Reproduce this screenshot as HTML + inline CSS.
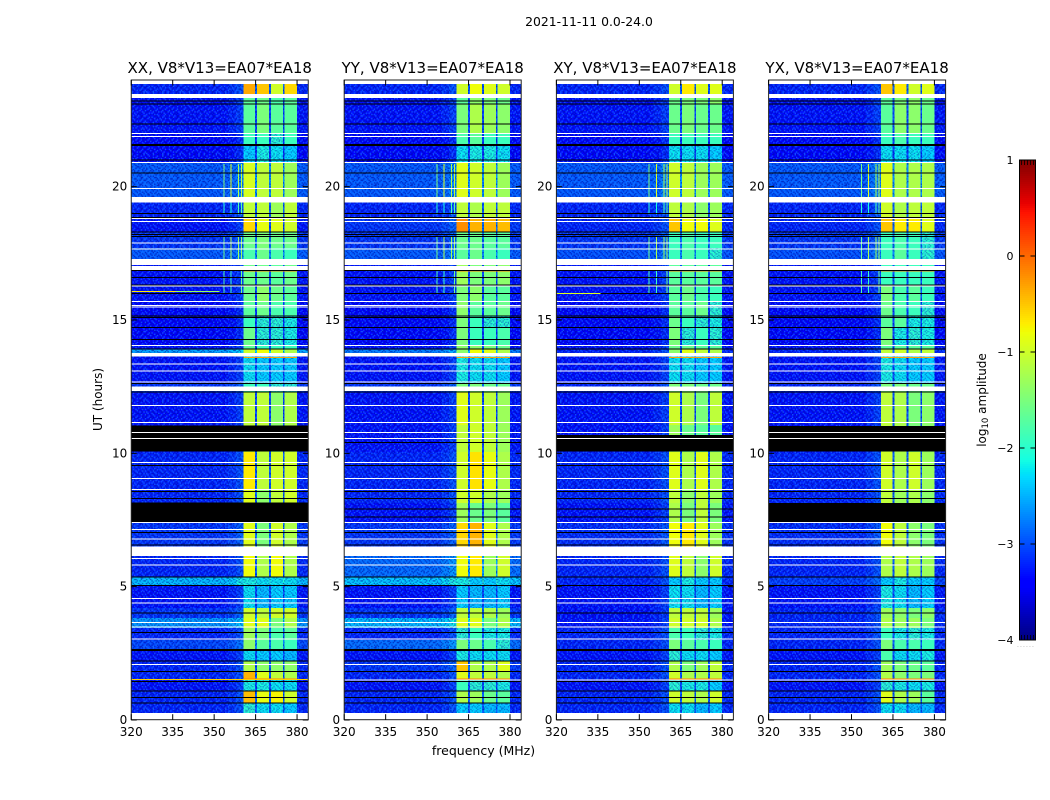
<!DOCTYPE html>
<html lang="en">
<head>
<meta charset="utf-8">
<title>2021-11-11 0.0-24.0</title>
<style>
html,body{margin:0;padding:0;background:#fff;width:1050px;height:800px;overflow:hidden}
svg{display:block}
text{font-family:"DejaVu Sans","Liberation Sans",sans-serif;fill:#000}
</style>
</head>
<body>
<svg id="chart" xmlns="http://www.w3.org/2000/svg" width="1050" height="800" viewBox="0 0 1050 800">
  <defs>
    <pattern id="speckle" width="27" height="23" patternUnits="userSpaceOnUse" patternTransform="scale(1.34)">
      <path id="speckle-dark" fill="#0008a0" fill-opacity="0.6" d=""/>
      <path id="speckle-light" fill="#1a78ff" fill-opacity="0.65" d=""/>
    </pattern>
  </defs>
  <text x="589" y="26" font-size="12.4" text-anchor="middle">2021-11-11 0.0-24.0</text>
  <text x="483.5" y="755" font-size="12.5" text-anchor="middle">frequency (MHz)</text>
  <text x="0" y="0" font-size="12" text-anchor="middle" transform="translate(102,399.5) rotate(-90)">UT (hours)</text>
  <text x="0" y="0" font-size="12" text-anchor="middle" transform="translate(986,400) rotate(-90)">log<tspan font-size="8.5" dy="2">10</tspan><tspan dy="-2"> amplitude</tspan></text>
  <text x="1017" y="647" font-size="6" letter-spacing="1.1" fill="#999" style="fill:#999">......</text>
  <g id="panels"></g>
  <g id="colorbar"></g>
</svg>
<script>
// Upper/lower edges (UT hours) of the rows of the time-frequency map, top to bottom.
const rowEdges = [23.85,23.33,23.10,22.01,21.56,20.93,19.61,18.83,18.30,17.70,17.06,16.28,15.71,15.15,14.70,14.06,13.91,13.65,12.64,12.30,11.06,10.05,8.66,8.14,7.43,6.49,5.36,5.03,4.20,3.83,3.45,3.00,2.63,2.21,1.80,1.50,1.09,0.64,0.26];

// Frequency channels (MHz); each channel reads a column of a row: 0 = background, 1-4 = sub-bands.
const channelEdges = [320,355,358,360.7,364.8,365.5,369.9,370.6,374.9,375.5,380,384.05];
const channelColumn = [0,0,0,1,0,2,0,3,0,4,0];
const channelOffset = [-.22,-.12,.02,0,.08,0,.08,0,.08,0,-.2];

// log10 amplitude per row: [background, sub-band 1, sub-band 2, sub-band 3, sub-band 4]
const xxRows = [
[-3,-.35,-.5,-1,-.6],[-3.1,-1.7,-1.6,-1.8,-1.7],[-3.1,-1.7,-1.5,-1.7,-1.7],[-3.2,-1.9,-1.9,-2,-1.9],[-3.2,-2.3,-2.1,-2.2,-2.3],
[-2.7,-.95,-1.1,-1.1,-1.3],[-3,-1.1,-1.1,-1.3,-1.1],[-3.1,-.6,-.85,-.9,-1],[-2.9,-1.6,-1.5,-1.6,-1.6],[-2.7,-1.8,-1.6,-1.8,-1.9],
[-3.1,-1.6,-1.6,-1.7,-1.6],[-3.1,-1.6,-1.4,-1.6,-1.7],[-3.2,-1.7,-1.6,-1.8,-1.8],[-3.2,-1.9,-2,-2,-2.1],[-3.2,-1.6,-2,-2,-2.1],
[-3.1,-1.7,-1.9,-1.9,-1.9],[-2.3,-1,-.8,-1,-1.2],[-3.1,-2.2,-2.3,-2.3,-2.3],[-2.9,-1.9,-1.9,-2,-2],[-3.1,-1.1,-1.1,-1.4,-1.2],
[-3.1,-1.1,-1.1,-1.4,-1.2],[-3,-.7,-1.1,-1,-1],[-3,-.9,-1.4,-1.1,-1],[-3,-1,-1.4,-1.1,-1.1],[-2.9,-.9,-1.5,-1,-1.2],
[-3,-.8,-1.2,-.8,-1.2],[-2.15,-2.1,-2.2,-2.2,-2.2],[-3.1,-2.2,-2.4,-2.3,-2.3],[-2.9,-1,-1.1,-1,-1],[-2.35,-.9,-.9,-1.5,-1.2],
[-3,-1.3,-1.5,-1.8,-1.7],[-2.8,-1.4,-1.7,-1.8,-1.9],[-3.1,-2.2,-2.3,-2.3,-2.4],[-3,-1.2,-1.4,-1.4,-1.4],[-3,-.4,-.9,-1.1,-1.2],
[-3.1,-2.1,-2.1,-2.2,-2.2],[-3,-.45,-.85,-.75,-1],[-3,-2,-2.2,-2.2,-2.3]];
const yyRows = [
[-3,-1,-.8,-.9,-1],[-3.1,-1.7,-1.4,-1.5,-1.6],[-3.1,-1.5,-1.2,-1.3,-1.4],[-3.2,-1.8,-1.7,-1.9,-1.9],[-3.2,-2.2,-2.1,-2.1,-2.2],
[-2.7,-.9,-1,-1.1,-1.3],[-3,-1.1,-1.2,-1.1,-1.1],[-2.9,-.2,-.4,-.4,-.45],[-2.9,-1.6,-1.6,-1.7,-1.7],[-2.7,-1.7,-1.6,-1.8,-1.9],
[-3.1,-1.3,-1.5,-1.5,-1.4],[-3.1,-1.5,-1.4,-1.7,-1.7],[-3.2,-1.4,-1.7,-1.7,-1.6],[-3.2,-1.5,-1.9,-2,-2],[-3.2,-1.5,-1.9,-1.9,-1.8],
[-3.1,-1.4,-1.4,-1.5,-1.6],[-2.5,-1.4,-.8,-.9,-1.2],[-3.1,-2.1,-2.2,-2.2,-2.3],[-2.9,-1.5,-1.5,-1.6,-1.6],[-3.1,-.9,-1,-1.1,-1.3],
[-3.1,-1.1,-1,-1.1,-1.3],[-3,-1,-.65,-.85,-1.2],[-3,-1,-1,-1.2,-1.3],[-3.1,-1.3,-1.6,-1.5,-1.7],[-2.9,-.6,-.4,-.9,-1.2],
[-2.6,-.8,-.7,-1.3,-1],[-2.1,-2.1,-2.3,-2.3,-2.2],[-3.1,-2.3,-2.4,-2.4,-2.3],[-2.9,-1.1,-1.1,-1.2,-1.3],[-2.15,-.9,-.9,-1.5,-1.2],
[-3,-2,-1.9,-2.1,-2.1],[-2.6,-1.5,-1.6,-1.8,-2],[-3.1,-2.1,-2.2,-2.2,-2.2],[-2.9,-.5,-1.2,-1.2,-.9],[-3,-.9,-1.1,-1.1,-1.2],
[-3.1,-1.9,-2,-2,-2.1],[-3,-1.2,-1.3,-1.6,-1.7],[-3,-2.3,-2.3,-2.4,-2.4]];
const xyRows = [
[-3,-1,-.7,-.9,-.9],[-3.1,-1.6,-1.5,-1.5,-1.4],[-3.1,-1.6,-1.5,-1.6,-1.6],[-3.2,-1.9,-1.9,-1.9,-1.9],[-3.2,-2.2,-2.2,-2.2,-2.3],
[-2.7,-1,-1.1,-1.3,-1.3],[-3,-1.1,-1.2,-1.4,-1.3],[-3,-.5,-.8,-.8,-.9],[-2.9,-1.9,-1.8,-1.9,-1.9],[-2.75,-1.9,-1.8,-1.9,-2],
[-3.1,-1.7,-1.7,-1.7,-1.7],[-3.1,-1.7,-1.6,-1.8,-1.9],[-3.2,-1.7,-1.7,-1.6,-2],[-3.2,-1.6,-1.9,-2,-2.1],[-3.2,-1.5,-2,-1.9,-2],
[-3.1,-1.6,-1.6,-1.7,-1.7],[-3,-1.4,-.9,-1.1,-1.2],[-3.1,-2.2,-2.2,-2.3,-2.3],[-3,-1.5,-1.5,-1.6,-1.6],[-3.1,-1,-1.2,-1.5,-1.1],
[-3.1,-1.3,-1.6,-1.7,-1.7],[-3,-.9,-1.2,-.9,-1.2],[-3,-1.1,-1.4,-1.1,-1.3],[-3.1,-1.2,-1.5,-1.1,-1.5],[-2.95,-.8,-.7,-.9,-1.3],
[-3,-.9,-1.1,-1.4,-1],[-3,-2.3,-2.1,-2.3,-2.3],[-3.1,-2.2,-2.2,-2.4,-2.3],[-3.1,-1.1,-1.1,-1.1,-1.3],[-3.1,-1,-1,-1,-1.2],
[-3,-1.8,-1.9,-2,-2.1],[-3,-1.5,-1.7,-1.8,-1.9],[-3.1,-2,-2.2,-2.2,-2.3],[-3,-1.2,-1.5,-1.3,-1.1],[-3,-1,-1.2,-1.2,-1.1],
[-3.1,-2,-2.1,-2.1,-2.3],[-3,-1,-1.1,-1.2,-1],[-3,-2.2,-2.2,-2.4,-2.3]];
const yxRows = [
[-3,-.5,-.7,-1,-.9],[-3.1,-1.7,-1.5,-1.4,-1.6],[-3.1,-1.7,-1.4,-1.4,-1.6],[-3.2,-1.9,-1.8,-1.9,-1.9],[-3.2,-2.2,-2.2,-2.2,-2.3],
[-2.7,-.9,-1.2,-1.2,-1.2],[-3,-1,-1.2,-1.1,-1.1],[-3,-.5,-.7,-.7,-.9],[-2.9,-1.9,-1.8,-1.9,-2],[-2.75,-1.9,-1.7,-1.9,-2],
[-3.1,-1.9,-1.9,-1.9,-1.9],[-3.1,-1.5,-1.8,-1.7,-1.9],[-3.2,-1.6,-1.8,-1.9,-2],[-3.2,-1.7,-1.7,-2.1,-2.1],[-3.2,-1.5,-2.1,-2,-2.1],
[-3.1,-1.7,-1.7,-1.7,-1.7],[-3,-1.1,-1,-1.2,-1.1],[-3.1,-2.1,-2.2,-2.3,-2.3],[-3,-1.5,-1.5,-1.6,-1.6],[-3.1,-1.1,-1.2,-1.5,-1.4],
[-3.1,-1.1,-1.2,-1.5,-1.4],[-3,-1,-1.2,-1,-1.3],[-3,-1.1,-1.3,-1.2,-1.4],[-3.1,-1.2,-1.4,-1.3,-1.5],[-2.95,-.8,-1.1,-1.4,-1.5],
[-3,-1.2,-1.1,-1.2,-1.3],[-2.85,-2.3,-2.1,-2.3,-2.3],[-3.1,-2.1,-2.2,-2.4,-2.3],[-3,-1.3,-1.4,-1.5,-1.4],[-3,-1.2,-1.3,-1.3,-1.5],
[-3,-1.9,-2.1,-2,-2.1],[-3,-1.5,-1.8,-1.8,-1.9],[-3.1,-1.8,-2.2,-2.2,-2.1],[-3,-1.3,-1.5,-1.6,-1.7],[-3,-1.2,-1.4,-1.5,-1.5],
[-3.1,-2,-2.1,-2.2,-2.1],[-3,-.9,-1.2,-1.3,-1.7],[-3,-2.2,-2.2,-2.4,-2.4]];

// Flagged (missing) times in UT hours, shown white.
const whiteLines = [22.00,21.89,20.90,19.94,18.81,18.70,17.88,17.67,16.28,15.70,15.54,15.48,14.05,13.35,13.08,12.68,11.80,11.16,10.79,10.56,9.66,9.06,8.65,7.41,7.15,6.78,6.05,5.81,4.56,4.38,3.66,3.48,3.03,2.09];
const whiteBlocks = [[23.48,23.33],[19.61,19.41],[17.29,17.07],[17.03,16.88],[13.76,13.64],[12.51,12.33],[6.50,6.15]];
// Zero-amplitude times in UT hours, shown black.
const blackLines = [23.22,23.10,22.35,21.00,20.52,18.99,18.85,18.30,18.21,18.14,16.85,16.60,16.32,16.00,15.15,15.10,14.71,14.26,13.92,12.61,12.30,10.41,9.55,8.56,8.30,7.92,7.62,7.04,6.57,5.37,5.04,4.02,3.29,2.22,1.81,1.44,1.09,0.85,0.63];
const blackHeavyLines = [21.56,2.63];
const xxBlackBlocks = [[11.04,10.06],[8.15,7.43]];
const yyBlackBlocks = [];
const xyBlackBlocks = [[10.69,10.06]];
const yxBlackBlocks = [[11.03,10.06],[8.14,7.43]];

// Narrow-band interference: [frequency MHz, start hour, end hour, log10 amplitude]
const rfiChannels = [
[353.4,20.85,19.61,-1.5],[356,20.85,19.61,-.9],[358.7,20.85,19.61,-1.2],[359.8,20.85,19.61,-1.1],
[353.4,19.41,18.95,-2],[356,19.41,18.95,-2.1],[358.7,19.41,18.95,-1.8],[359.8,19.41,18.95,-1.7],
[353.4,18.14,17.29,-1.6],[356,18.14,17.29,-1.2],[358.7,18.14,17.29,-1.3],[359.8,18.14,17.29,-1.3],
[353.4,16.85,16.0,-1.8],[356,16.85,16.0,-1.9],[359.8,16.85,16.0,-1.6]];
// Whole-band bursts: [hour, start MHz, end MHz, log10 amplitude]
const xxBursts = [[16.06,320,336,-.7],[16.06,336,352,-1.3],[1.52,320,384.05,-.55]];
const yyBursts = [[1.50,320,384.05,-9]];
const xyBursts = [[16.00,320,336,-.9],[1.50,320,384.05,-9]];
const yxBursts = [[1.50,320,384.05,-9]];
// Bright short rows crossing the sub-bands: [hour, log10 amplitude]
const bandStreaks = [[16.86,-.1],[13.62,-.3],[1.56,-.15]];

const xTickValues = [320,335,350,365,380];
const yTickValues = [0,5,10,15,20];
const panelTitles = ["XX, V8*V13=EA07*EA18","YY, V8*V13=EA07*EA18","XY, V8*V13=EA07*EA18","YX, V8*V13=EA07*EA18"];
const panelRows = [xxRows,yyRows,xyRows,yxRows];
const panelBlackBlocks = [xxBlackBlocks,yyBlackBlocks,xyBlackBlocks,yxBlackBlocks];
const panelBursts = [xxBursts,yyBursts,xyBursts,yxBursts];
const panelKeys = ["xx","yy","xy","yx"];

const colorTickValues = [-4,-3,-2,-1,0,1];

// Decorative receiver-noise tile: 1 = darker pixel, 2 = lighter pixel.
const noiseTileRows = [
"102001200110020102100201012",
"010210010200121001020110200",
"200101202010010210100200101",
"021001010021200100212010020",
"100200120100102010001001202",
"012010001202010201200120010",
"201001210010200100102001021",
"001120020101021020010210100",
"120001102000110012001002012",
"002102010120002101020110100",
"210010200011201000201001201",
"010201021002010120100200010",
"102010100210100201012010210",
"200121002001021000210102001",
"011000210120200112000201020",
"100202001001012000120010102",
"021010120200100210002101000",
"200100011021002101200020112",
"010212000100120010011200100",
"102001021012001200200101021",
"001020100200210011021000200",
"210101002101002000100212010",
"020010210010120102010001102"];

const SVGNS = "http://www.w3.org/2000/svg";
const AX_TOP = 80, AX_BOTTOM = 719.7, Y_PER_HOUR = 640 / 24;
const AX_LEFTS = [131.25,344.2,556.4,768.6], AX_WIDTH = 177;
const X_MIN = 320, X_MAX = 384.05;
const yScale = h => 720 - h * Y_PER_HOUR;
const xScale = (f, left) => left + (f - X_MIN) / (X_MAX - X_MIN) * AX_WIDTH;

let darkPath = "", lightPath = "";
noiseTileRows.forEach((line, j) => {
  [...line].forEach((ch, i) => {
    if (ch === "1") darkPath += "M" + i + " " + j + "h1v1h-1z";
    if (ch === "2") lightPath += "M" + i + " " + j + "h1v1h-1z";
  });
});
document.getElementById("speckle-dark").setAttribute("d", darkPath);
document.getElementById("speckle-light").setAttribute("d", lightPath);

function ramp(pts, x) {
  for (let i = 1; i < pts.length; i++) {
    if (x <= pts[i][0]) {
      const a = pts[i-1], b = pts[i];
      return a[1] + (b[1]-a[1]) * (x-a[0]) / (b[0]-a[0]);
    }
  }
  return pts[pts.length-1][1];
}
const JET_R = [[0,0],[.35,0],[.66,1],[.89,1],[1,.5]];
const JET_G = [[0,0],[.125,0],[.375,1],[.64,1],[.91,0],[1,0]];
const JET_B = [[0,.5],[.11,1],[.34,1],[.65,0],[1,0]];
function jet(v) {
  const t = Math.max(0, Math.min(1, (v + 4) / 5));
  return "rgb(" + [JET_R,JET_G,JET_B].map(c => Math.round(ramp(c,t)*255)).join(",") + ")";
}
function make(tag, attrs, parent) {
  const el = document.createElementNS(SVGNS, tag);
  for (const k in attrs) el.setAttribute(k, attrs[k]);
  parent.appendChild(el);
  return el;
}
function hBar(parent, left, h0, h1, fill) {
  return make("rect", {x:left, y:yScale(h0), width:AX_WIDTH, height:yScale(h1)-yScale(h0), fill:fill, "shape-rendering":"crispEdges"}, parent);
}

const panelsRoot = document.getElementById("panels");
panelRows.forEach((rows, p) => {
  const left = AX_LEFTS[p], key = panelKeys[p];
  const g = make("g", {}, panelsRoot);
  
  

  // heatmap cells
  rows.forEach((row, r) => {
    channelColumn.forEach((col, c) => {
      const x0 = xScale(channelEdges[c], left), x1 = xScale(channelEdges[c+1], left);
      const y0 = yScale(rowEdges[r]), y1 = yScale(rowEdges[r+1]);
      const level = row[col] + channelOffset[c];
      const cell = make("rect", {x:x0, y:y0, width:x1-x0, height:y1-y0, fill:jet(level), "shape-rendering":"crispEdges"}, g);
      
      
      // noise shows in the background and wherever a sub-band is faint
      if (col === 0 || row[col] < -1.95) {
        const tex = make("rect", {x:x0, y:y0, width:x1-x0, height:y1-y0, fill:"url(#speckle)", "shape-rendering":"crispEdges", opacity:col === 0 ? 1 : 0.7}, g);
        
        
      }
    });
  });

  // interference channels
  rfiChannels.forEach(d => {
    const rf = make("rect", {x:xScale(d[0],left), y:yScale(d[1]), width:1, height:yScale(d[2])-yScale(d[1]), fill:jet(d[3]), "shape-rendering":"crispEdges"}, g);
    
    
  });

  // bright streaks across the band
  bandStreaks.forEach(d => {
    const st = make("rect", {x:xScale(channelEdges[3],left), y:yScale(d[0]), width:xScale(channelEdges[10],left)-xScale(channelEdges[3],left), height:1.2, fill:jet(d[1]), "shape-rendering":"crispEdges"}, g);
    
    
  });

  // flags
  panelBlackBlocks[p].forEach(b => {
    const bl = hBar(g, left, b[0], b[1], "#000");
    
    
  });
  blackLines.forEach(h => {
    const ln = make("rect", {x:left, y:yScale(h)-0.5, width:AX_WIDTH, height:1, fill:"#000", "shape-rendering":"crispEdges"}, g);
    
    
  });
  blackHeavyLines.forEach(h => {
    const ln = make("rect", {x:left, y:yScale(h)-1, width:AX_WIDTH, height:2, fill:"#000", "shape-rendering":"crispEdges"}, g);
    
    
  });
  whiteBlocks.forEach(b => {
    const wb = hBar(g, left, b[0], b[1], "#fff");
    
    
  });
  whiteLines.forEach(h => {
    const wl = make("rect", {x:left, y:yScale(h)-0.5, width:AX_WIDTH, height:1, fill:"#fff", "shape-rendering":"crispEdges"}, g);
    
    
  });
  panelBursts[p].forEach(d => {
    const x0 = xScale(d[1],left), x1 = xScale(d[2],left);
    const bu = make("rect", {x:x0, y:yScale(d[0])-0.5, width:x1-x0, height:1, fill:d[3] < -4 ? "#fff" : jet(d[3]), "shape-rendering":"crispEdges"}, g);
    
    
  });

  // frame
  const frame = make("rect", {x:left, y:AX_TOP, width:AX_WIDTH, height:AX_BOTTOM-AX_TOP, fill:"none", stroke:"#222", "stroke-width":1}, g);
  
  

  // x ticks
  xTickValues.forEach(v => {
    const x = xScale(v, left);
    const t1 = make("line", {x1:x, x2:x, y1:AX_BOTTOM, y2:AX_BOTTOM-5.5, stroke:"#000", "stroke-width":1}, g);
    
    
    const t2 = make("line", {x1:x, x2:x, y1:AX_TOP, y2:AX_TOP+5.5, stroke:"#000", "stroke-width":1}, g);
    
    
    const lb = make("text", {x:x, y:736, "font-size":12, "text-anchor":"middle"}, g);
    lb.textContent = v;
    
    
  });

  // y ticks
  yTickValues.forEach(v => {
    const y = yScale(v);
    const t1 = make("line", {x1:left, x2:left+5.5, y1:y, y2:y, stroke:"#000", "stroke-width":1}, g);
    
    
    const t2 = make("line", {x1:left+AX_WIDTH, x2:left+AX_WIDTH-5.5, y1:y, y2:y, stroke:"#000", "stroke-width":1}, g);
    
    
    const lb = make("text", {x:left-4, y:y+4, "font-size":12, "text-anchor":"end"}, g);
    lb.textContent = v;
    
    
  });

  // title
  const title = make("text", {x:left+AX_WIDTH/2, y:73, "font-size":15, "text-anchor":"middle"}, g);
  title.textContent = panelTitles[p];
  
  
});

// colour bar
const cb = document.getElementById("colorbar");
const CB_LEFT = 1019.5, CB_WIDTH = 16, CB_TOP = 160, CB_BOTTOM = 640;
const cbScale = v => CB_BOTTOM - (v + 4) / 5 * (CB_BOTTOM - CB_TOP);
for (let y = CB_TOP; y < CB_BOTTOM; y += 2) {
  const band = make("rect", {x:CB_LEFT, y:y, width:CB_WIDTH, height:2.2, fill:jet(-4 + (CB_BOTTOM - y - 1) / (CB_BOTTOM - CB_TOP) * 5), "shape-rendering":"crispEdges"}, cb);
  
  
}
const cbFrame = make("rect", {x:CB_LEFT, y:CB_TOP, width:CB_WIDTH, height:CB_BOTTOM-CB_TOP, fill:"none", stroke:"#000", "stroke-width":1}, cb);


colorTickValues.forEach(v => {
  const y = cbScale(v);
  const lb = make("text", {x:1013.5, y:y+4, "font-size":11, "text-anchor":"end"}, cb);
  lb.textContent = v < 0 ? "\u2212" + Math.abs(v) : v;
  
  
  if (v > -4 && v < 1) {
    const a = make("line", {x1:CB_LEFT, x2:CB_LEFT+5, y1:y, y2:y, stroke:"#000", "stroke-width":1}, cb);
    
    
    const b = make("line", {x1:CB_LEFT+CB_WIDTH, x2:CB_LEFT+CB_WIDTH-5, y1:y, y2:y, stroke:"#000", "stroke-width":1}, cb);
    
    
  }
});
for (let i = 0; i < 5; i++) {
  const x = CB_LEFT + 2 + i * 3;
  const top = make("line", {x1:x, x2:x, y1:CB_TOP, y2:CB_TOP+5, stroke:"#000", "stroke-width":0.8}, cb);
  
  
  const bot = make("line", {x1:x, x2:x, y1:CB_BOTTOM, y2:CB_BOTTOM-5, stroke:"#000", "stroke-width":0.8}, cb);
  
  
}
</script>
</body>
</html>
